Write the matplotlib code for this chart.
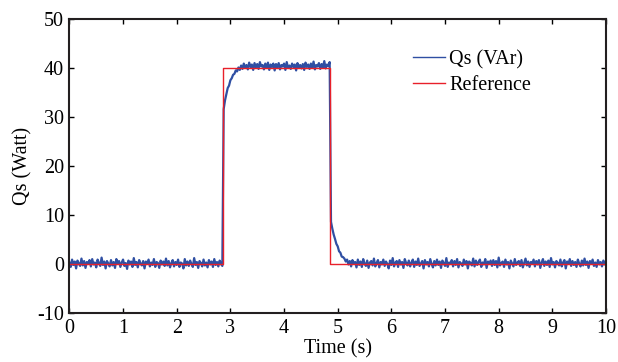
import matplotlib
matplotlib.use("Agg")
import matplotlib.pyplot as plt
import numpy as np

plt.rcParams['font.family'] = ['Liberation Serif', 'DejaVu Serif']
plt.rcParams['axes.unicode_minus'] = False

# Qs samples, every 0.025 s from 0 to 10 s
qs_before = [
    0.3, -0.6, 0.9, -0.2, 0.5, -0.9, 0.7, 0.1, -0.4, 1.1,
    -0.3, 0.6, -0.8, 0.4, 0.0, 0.8, -0.5, 1.0, -0.1, 0.3,
    -0.7, 0.9, 0.2, -0.4, 1.3, -0.2, 0.5, -0.9, 0.6, 0.1,
    -0.5, 0.8, -0.3, 0.4, -0.8, 1.0, 0.0, 0.6, -0.6, 0.3,
    0.9, -0.4, 0.2, -1.0, 0.7, -0.1, 0.5, -0.6, 1.2, -0.2,
    0.4, -0.7, 0.8, 0.1, -0.3, 0.6, -0.9, 0.5, 0.0, 0.9,
    -0.5, 0.3, -0.2, 1.0, -0.6, 0.4, 0.2, -0.8, 0.7, -0.1,
    0.5, -0.4, 1.1, -0.3, 0.6, -0.7, 0.2, 0.8, -0.5, 0.4,
    -0.2, 0.9, -0.6, 0.3, 0.1, -0.9, 1.0, -0.3, 0.5, -0.4,
    0.7, 0.0, -0.6, 1.2, -0.2, 0.4, -0.8, 0.6, 0.2, -0.5,
    0.9, -0.3, 0.3, -0.7, 0.8, -0.1, 0.5, -0.6, 1.0, -0.2,
    0.4, -0.5, 0.7, 0.0, -0.4,
]
qs_high = [
    31.6, 33.4, 34.6, 35.9, 36.4, 37.5, 37.9, 38.6, 38.8, 39.5,
    39.3, 40.1, 39.6, 40.5, 39.8, 40.9, 40.0, 40.6, 39.7, 41.1,
    40.2, 40.7, 39.6, 41.0, 40.1, 40.8, 39.8, 41.2, 40.3, 40.6,
    39.7, 40.9, 40.0, 41.1, 39.6, 40.7, 40.2, 40.9, 39.5, 40.8,
    40.1, 41.0, 39.7, 40.6, 40.3, 40.9, 39.6, 41.2, 40.0, 40.5,
    39.8, 40.9, 40.2, 40.7, 39.5, 41.0, 40.1, 40.6, 39.9, 40.8,
    39.6, 41.1, 40.2, 40.7, 39.8, 40.9, 40.0, 41.3, 39.7, 40.6,
    40.3, 41.0, 39.8, 40.8, 40.1, 41.4, 39.9, 40.7, 40.4, 41.2,
]
qs_fall = [8.6, 7.2, 6.0, 5.1, 4.1, 3.6, 2.6, 2.3, 1.5, 1.4]
qs_after = [
    1.1, 0.5, 0.9, -0.1, 0.6, -0.5, 0.8, 0.0, 0.4, -0.7,
    0.9, -0.2, 0.5, -0.6, 1.0, 0.1, -0.4, 0.7, -0.8, 0.3,
    0.6, -0.3, 1.1, -0.5, 0.2, 0.8, -0.7, 0.4, -0.1, 0.9,
    -0.4, 0.5, 0.0, -0.9, 0.7, -0.2, 1.2, -0.5, 0.3, 0.6,
    -0.6, 0.8, -0.1, 0.4, -0.8, 1.0, 0.2, -0.3, 0.7, -0.5,
    0.3, 0.9, -0.6, 0.5, -0.2, 1.1, -0.4, 0.1, 0.6, -0.9,
    0.8, -0.1, 0.4, -0.5, 1.0, 0.0, -0.7, 0.6, -0.3, 0.9,
    -0.2, 0.5, -0.8, 0.7, 0.2, -0.4, 1.2, -0.6, 0.3, 0.0,
    0.8, -0.5, 0.6, -0.2, 1.0, -0.7, 0.4, 0.1, -0.4, 0.9,
    -0.1, 0.6, -0.9, 0.5, 0.2, -0.3, 1.1, -0.5, 0.7, -0.2,
    0.4, 0.9, -0.6, 0.3, -0.1, 1.0, -0.8, 0.5, 0.0, 0.7,
    -0.4, 0.8, -0.2, 0.6, -0.7, 1.3, -0.3, 0.2, 0.5, -0.6,
    0.9, -0.1, 0.4, -0.9, 0.7, 0.1, -0.5, 1.0, -0.2, 0.3,
    0.6, -0.4, 0.8, -0.7, 0.2, 1.1, -0.3, 0.5, -0.6, 0.4,
    0.0, 0.9, -0.5, 0.6, -0.1, 0.8, -0.8, 0.3, 1.0, -0.4,
    0.5, -0.2, 0.7, -0.6, 1.2, -0.1, 0.4, -0.7, 0.6, 0.2,
    -0.3, 0.9, -0.5, 0.3, 0.8, -0.9, 0.5, 0.0, 1.0, -0.4,
    0.6, -0.2, 0.4, -0.6, 0.9, 0.1, -0.5, 0.7, -0.3, 1.1,
    -0.2, 0.5, -0.8, 0.6, 0.0, 0.9, -0.4, 0.3, -0.6, 0.8,
    -0.1, 0.4, -0.5, 0.7, 0.2, -0.3,
]

# reference step
ref_times = [0, 2.86, 4.85, 10]
ref_levels = [0, 40, 0, 0]

qs = np.array(qs_before + qs_high + qs_fall + qs_after)
t = np.linspace(0, 10, len(qs))

fig = plt.figure(figsize=(6.18, 3.62), dpi=100)
ax = fig.add_axes([0.1123, 0.1354, 0.8683, 0.8122])

ax.plot(t, qs, color='#2f4fa3', lw=1.6, label='Qs (VAr)')
ax.step(ref_times, ref_levels, where='post', color='#e8202a', lw=1.0,
        label='Reference')

ax.set_xlim(0, 10)
ax.set_ylim(-10, 50)
ax.set_xticks(range(0, 11))
ax.set_yticks(range(-10, 51, 10))
ax.tick_params(direction='in', top=True, right=True, length=3.5, width=1,
               labelsize=14.5, pad=4)
for s in ax.spines.values():
    s.set_linewidth(1.5)
    s.set_color('#231f20')

ax.set_xlabel('Time (s)', fontsize=14.5, labelpad=1)
ax.set_ylabel('Qs (Watt)', fontsize=14.5, labelpad=3)

leg = ax.legend(loc='center left', bbox_to_anchor=(0.64, 0.818), frameon=False,
                fontsize=14.5, handlelength=1.6, handletextpad=0.2,
                labelspacing=0.35, borderpad=0, borderaxespad=0)
for h in leg.legend_handles:
    h.set_linewidth(1.0)

fig.savefig('out.png', dpi=100)
